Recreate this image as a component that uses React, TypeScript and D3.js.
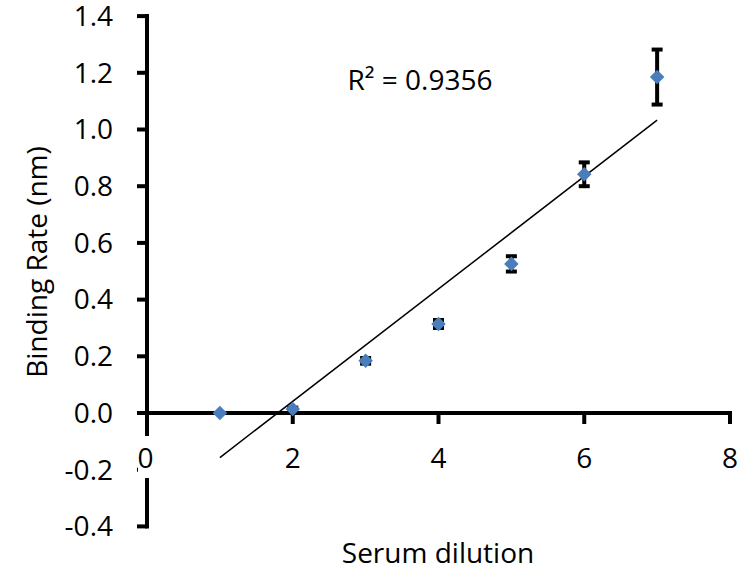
import React from "react";
import * as d3 from "d3";

const xValues = [1, 2, 3, 4, 5, 6, 7];
const yValues = [0.0, 0.014, 0.184, 0.314, 0.526, 0.842, 1.185];
const yErrors = [0.0, 0.005, 0.01, 0.014, 0.027, 0.042, 0.097];
const xTicks = [0, 2, 4, 6, 8];
const yTicks = [-0.4, -0.2, 0.0, 0.2, 0.4, 0.6, 0.8, 1.0, 1.2, 1.4];
const r2Label = "R² = 0.9356";
const xTitle = "Serum dilution";
const yTitle = "Binding Rate (nm)";

const W = 756;
const H = 574;
const FONT = "'Open Sans', 'Noto Sans', sans-serif";
const FS = 28;

export default function App() {
  const x = d3.scaleLinear().domain([0, 8]).range([147, 730]);
  const y = d3.scaleLinear().domain([-0.4, 1.4]).range([526.4, 16.1]);

  // linear regression trendline
  const n = xValues.length;
  const mx = d3.mean(xValues) as number;
  const my = d3.mean(yValues) as number;
  let sxy = 0;
  let sxx = 0;
  for (let i = 0; i < n; i++) {
    sxy += (xValues[i] - mx) * (yValues[i] - my);
    sxx += (xValues[i] - mx) ** 2;
  }
  const slope = sxy / sxx;
  const icpt = my - slope * mx;
  const x0 = d3.min(xValues) as number;
  const x1 = d3.max(xValues) as number;
  const line = d3
    .line<number>()
    .x((d) => x(d))
    .y((d) => y(slope * d + icpt));

  const diamond = d3.symbol().type(d3.symbolDiamond2).size(135)();

  const fmt = (v: number) => d3.format(".1f")(v).replace("\u2212", "-");
  const y0 = y(0);
  const AW = 4;

  return (
    <svg
      width={W}
      height={H}
      style={{ position: "absolute", left: 0, top: 0, background: "#fff" }}
      fontFamily={FONT}
    >
      <rect width={W} height={H} fill="#fff" />
      {/* y axis */}
      <line x1={x(0)} x2={x(0)} y1={y(-0.4) + AW / 2} y2={y(1.4) - AW / 2} stroke="#000" strokeWidth={AW} />
      {yTicks.map((t) => (
        <g key={"yt" + t}>
          <line x1={x(0) - 10} x2={x(0)} y1={y(t)} y2={y(t)} stroke="#000" strokeWidth={AW} />
          <text x={113} y={y(t)} dy="0.35em" textAnchor="end" fontSize={FS} fill="#000">
            {fmt(t)}
          </text>
        </g>
      ))}
      {/* x axis */}
      <line x1={x(0) - AW / 2} x2={x(8) + AW / 2} y1={y0} y2={y0} stroke="#000" strokeWidth={AW} />
      {xTicks.map((t) => (
        <line key={"xt" + t} x1={x(t)} x2={x(t)} y1={y0} y2={y0 + 11} stroke="#000" strokeWidth={AW} />
      ))}
      {xTicks
        .filter((t) => t !== 0)
        .map((t) => (
          <text key={"xl" + t} x={x(t)} y={458} dy="0.35em" textAnchor="middle" fontSize={FS} fill="#000">
            {t}
          </text>
        ))}
      {/* "0" label with white box */}
      <rect x={x(0) - 9} y={436} width={20} height={42} fill="#fff" />
      <text x={x(0) - 1.5} y={458} dy="0.35em" textAnchor="middle" fontSize={FS} fill="#000">
        {xTicks[0]}
      </text>

      {/* trendline */}
      <path d={line([x0, x1]) || ""} stroke="#000" strokeWidth={1.5} fill="none" />

      {/* error bars */}
      {xValues.map((xv, i) => {
        const e = yErrors[i];
        if (e <= 0) return null;
        const cx = x(xv);
        const top = y(yValues[i] + e);
        const bot = y(yValues[i] - e);
        return (
          <g key={"eb" + i} stroke="#000" strokeWidth={4}>
            <line x1={cx} x2={cx} y1={top} y2={bot} />
            <line x1={cx - 5.5} x2={cx + 5.5} y1={top} y2={top} />
            <line x1={cx - 5.5} x2={cx + 5.5} y1={bot} y2={bot} />
          </g>
        );
      })}

      {/* markers */}
      {xValues.map((xv, i) => (
        <path
          key={"m" + i}
          d={diamond || ""}
          transform={`translate(${x(xv)},${y(yValues[i])})`}
          fill="#4A7EBB"
        />
      ))}

      {/* R² label */}
      <text x={420} y={80} dy="0.35em" textAnchor="middle" fontSize={FS} fill="#000">
        {r2Label}
      </text>

      {/* axis titles */}
      <text x={438} y={553} dy="0.35em" textAnchor="middle" fontSize={FS} fill="#000">
        {xTitle}
      </text>
      <text
        transform={`translate(37.5,262) rotate(-90)`}
        dy="0.35em"
        textAnchor="middle"
        fontSize={FS}
        fill="#000"
      >
        {yTitle}
      </text>
    </svg>
  );
}
